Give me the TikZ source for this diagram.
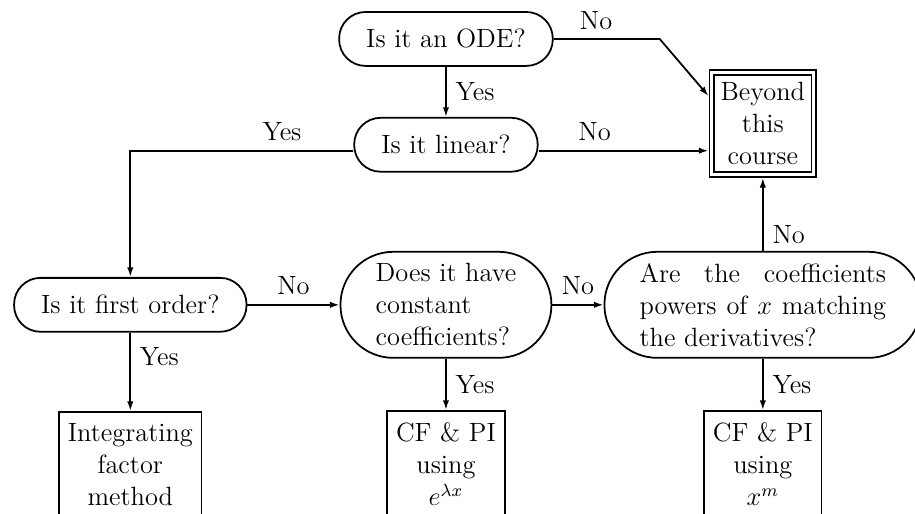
\documentclass[12pt,tikz,border=0pt]{standalone}
\usetikzlibrary{arrows.meta, positioning}

\begin{document}
\begin{tikzpicture}[
    question/.style={rectangle, rounded corners=12pt, draw, thick,
      inner xsep=12.3pt, minimum height=24.5pt},
    bigquestion/.style={question, rounded corners=24pt,
      inner xsep=16pt, minimum height=48.2pt},
    method/.style={rectangle, draw, thick, align=center, inner ysep=5.5pt},
    beyondbox/.style={rectangle, draw, thick, double, double distance=1.4pt,
      outer sep=1.5pt, minimum size=46.4pt, align=center},
    arrow/.style={thick, -{Latex[length=4.4pt, width=2.9pt]}}
]
\useasboundingbox (0,0) rectangle (415.9pt,-233.6pt);
\node[question] (ode) at (202.7pt,-17.7pt) {Is it an ODE?};
\node[question, below=22.8pt of ode] (linear) {Is it linear?};
\node[bigquestion, align=left, below=35.6pt of linear] (const) {Does it have\\constant\\coefficients?};
\node[question, left=41.9pt of const] (first) {Is it first order?};
\node[bigquestion, text width=112pt, align=justify, right=23.3pt of const] (powers)
  {Are the coefficients powers of $x$ matching the derivatives?};
\node[beyondbox, above=33.2pt of powers] (beyond) {Beyond\\this\\course};
\node[method, below=35.6pt of first] (ifm) {Integrating\\factor\\method};
\node[method, below=23.3pt of const] (cfe) {CF \& PI\\using\\$e^{\lambda x}$};
\node[method, below=23.3pt of powers] (cfx) {CF \& PI\\using\\$x^m$};

\coordinate (bend) at ([xshift=48.2pt]ode.east);
\coordinate (linout) at ([yshift=-2.7pt]linear.east);
\coordinate (linin) at ([yshift=-2.7pt]linear.west);

\draw[arrow] (ode.east) -- node[above, pos=0.4] {No} (bend) -- ([yshift=12.5pt]beyond.west);
\draw[arrow] (ode) -- node[right] {Yes} (linear);
\draw[arrow] (linout) -- node[above, pos=0.33] {No} (linout -| beyond.west);
\draw[arrow] (linin) -| node[above, pos=0.16] {Yes} (first);
\draw[arrow] (first) -- node[above] {No} (const);
\draw[arrow] (const) -- node[above] {No} (powers);
\draw[arrow] (powers) -- node[right, pos=0.22] {No} (beyond);
\draw[arrow] (first) -- node[right, pos=0.3] {Yes} (ifm);
\draw[arrow] (const) -- node[right] {Yes} (cfe);
\draw[arrow] (powers) -- node[right] {Yes} (cfx);
\end{tikzpicture}
\end{document}
